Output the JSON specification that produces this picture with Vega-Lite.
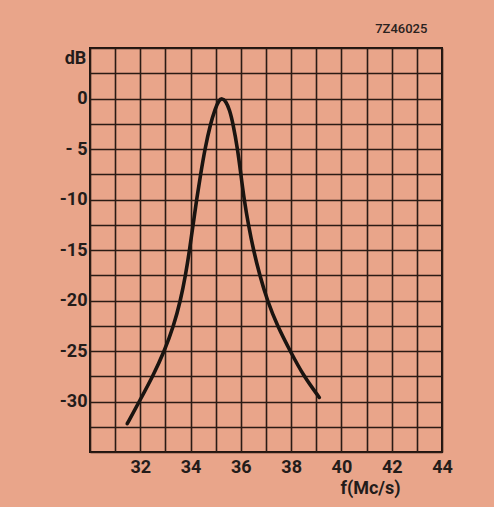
{
  "$schema": "https://vega.github.io/schema/vega-lite/v6.json",
  "width": 352,
  "height": 404,
  "autosize": {"type": "none"},
  "padding": {"left": 90, "top": 48, "right": 52, "bottom": 55},
  "background": "#E9A58A",
  "title": {
    "text": "7Z46025",
    "anchor": "end",
    "orient": "top",
    "dx": -25,
    "offset": 3,
    "font": "Roboto",
    "fontSize": 13,
    "fontWeight": 500,
    "color": "#2a2220"
  },
  "config": {
    "view": {"stroke": "#1e1410", "strokeWidth": 2},
    "axis": {
      "domain": false,
      "ticks": false,
      "grid": true,
      "gridColor": "#2b1b14",
      "gridWidth": 1.6,
      "gridOpacity": 1,
      "labelFont": "Roboto",
      "labelFontSize": 18,
      "labelFontWeight": "bold",
      "labelColor": "#231c1a",
      "titleFont": "Roboto",
      "titleFontSize": 18,
      "titleFontWeight": "bold",
      "titleColor": "#231c1a"
    }
  },
  "data": {
    "values": [
      {"f": 31.48, "dB": -32.2},
      {"f": 31.96, "dB": -30},
      {"f": 32.5, "dB": -27.5},
      {"f": 32.96, "dB": -25},
      {"f": 33.33, "dB": -22.5},
      {"f": 33.6, "dB": -20},
      {"f": 33.8, "dB": -17.5},
      {"f": 33.96, "dB": -15},
      {"f": 34.1, "dB": -12.5},
      {"f": 34.24, "dB": -10},
      {"f": 34.4, "dB": -7.5},
      {"f": 34.57, "dB": -5},
      {"f": 34.79, "dB": -2.5},
      {"f": 34.98, "dB": -1},
      {"f": 35.12, "dB": -0.2},
      {"f": 35.25, "dB": 0.05},
      {"f": 35.4, "dB": -0.25},
      {"f": 35.55, "dB": -1.1},
      {"f": 35.69, "dB": -2.5},
      {"f": 35.87, "dB": -5},
      {"f": 36.0, "dB": -7.5},
      {"f": 36.13, "dB": -10},
      {"f": 36.3, "dB": -12.5},
      {"f": 36.5, "dB": -15},
      {"f": 36.75, "dB": -17.5},
      {"f": 37.05, "dB": -20},
      {"f": 37.45, "dB": -22.5},
      {"f": 37.96, "dB": -25},
      {"f": 38.5, "dB": -27.5},
      {"f": 39.12, "dB": -29.6}
    ]
  },
  "mark": {"type": "line", "interpolate": "basis", "color": "#1a1410", "strokeWidth": 3.6, "strokeCap": "round"},
  "encoding": {
    "x": {
      "field": "f",
      "type": "quantitative",
      "scale": {"domain": [30, 44], "nice": false, "zero": false},
      "axis": {
        "values": [30, 31, 32, 33, 34, 35, 36, 37, 38, 39, 40, 41, 42, 43, 44],
        "labelExpr": "(datum.value % 2 == 0 && datum.value >= 32) ? datum.value + '' : ''",
        "labelPadding": 6,
        "labelFlush": false,
        "labelOverlap": false,
        "title": "f(Mc/s)",
        "titleX": 280,
        "titleY": 36,
        "titleAlign": "center",
        "titleBaseline": "middle"
      }
    },
    "y": {
      "field": "dB",
      "type": "quantitative",
      "scale": {"domain": [-35, 5], "nice": false, "zero": false},
      "axis": {
        "values": [-35, -32.5, -30, -27.5, -25, -22.5, -20, -17.5, -15, -12.5, -10, -7.5, -5, -2.5, 0, 2.5, 5],
        "labelExpr": "datum.value == 0 ? '0' : datum.value == -5 ? '- 5' : (datum.value % 5 == 0 && datum.value < 0 && datum.value >= -30) ? '-' + abs(datum.value) : ''",
        "labelPadding": 3,
        "labelFlush": false,
        "labelOverlap": false,
        "title": "dB",
        "titleAngle": 0,
        "titleX": -15,
        "titleY": 10,
        "titleAlign": "center",
        "titleBaseline": "middle"
      }
    }
  }
}
